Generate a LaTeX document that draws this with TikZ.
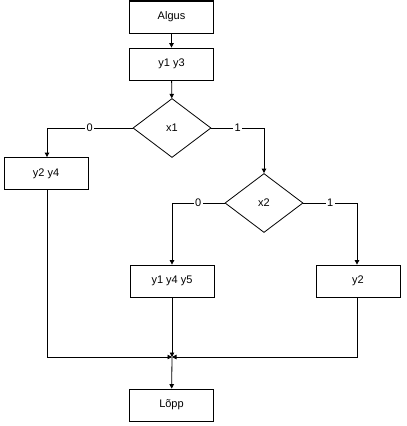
\documentclass[tikz,border=0pt]{standalone}
\usepackage{fontspec}
\setmainfont{Liberation Sans}
\usetikzlibrary{shapes.geometric,arrows.meta}
\begin{document}
\begin{tikzpicture}[
   x=1pt,y=-1pt,
   block/.style={rectangle,draw,line width=0.8pt,minimum width=84pt,minimum height=32pt,inner sep=0pt},
   cond/.style={diamond,draw,line width=0.8pt,minimum width=78pt,minimum height=59pt,inner sep=0pt},
   line/.style={line width=0.8pt},
   flow/.style={line,-{Triangle[length=4.5pt,width=4.5pt]}},
   lbl/.style={fill=white,inner sep=1.5pt},
   every node/.style={font=\fontsize{11}{13}\selectfont}
 ]
  \useasboundingbox (0,0) rectangle (407,426);
  \node[block] (start) at (171.5,17) {Algus};
  \draw[line width=2pt] (start.north west) -- (start.north east);
  \node[block] (a) at (171.5,64) {y1 y3};
  \node[cond] (x1) at (172,128) {x1};
  \node[block] (b) at (46,173.5) {y2 y4};
  \node[cond] (x2) at (264,203) {x2};
  \node[block] (c) at (172,281) {y1 y4 y5};
  \node[block] (d) at (358,281) {y2};
  \node[block] (stop) at (171.5,405) {Lõpp};
  \coordinate (j) at (172,357);

  \draw[flow] (start) -- (a);
  \draw[flow] (a) -- (x1);
  \draw[flow] (x1.west) -| node[lbl,pos=0.25] {0} ([xshift=1pt]b.north);
  \draw[flow] (x1.east) -| node[lbl,pos=0.25] {1} (x2.north);
  \draw[flow] (x2.west) -| node[lbl,pos=0.25] {0} (c.north);
  \draw[flow] (x2.east) -| node[lbl,pos=0.25] {1} ([xshift=-1pt]d.north);
  \draw[flow] ([xshift=1pt]b.south) |- (j);
  \draw[flow] ([xshift=-1pt]d.south) |- (j);
  \draw[flow] (c.south) -- (j);
  \draw[flow] (j) -- (stop);
 \end{tikzpicture}
\end{document}
